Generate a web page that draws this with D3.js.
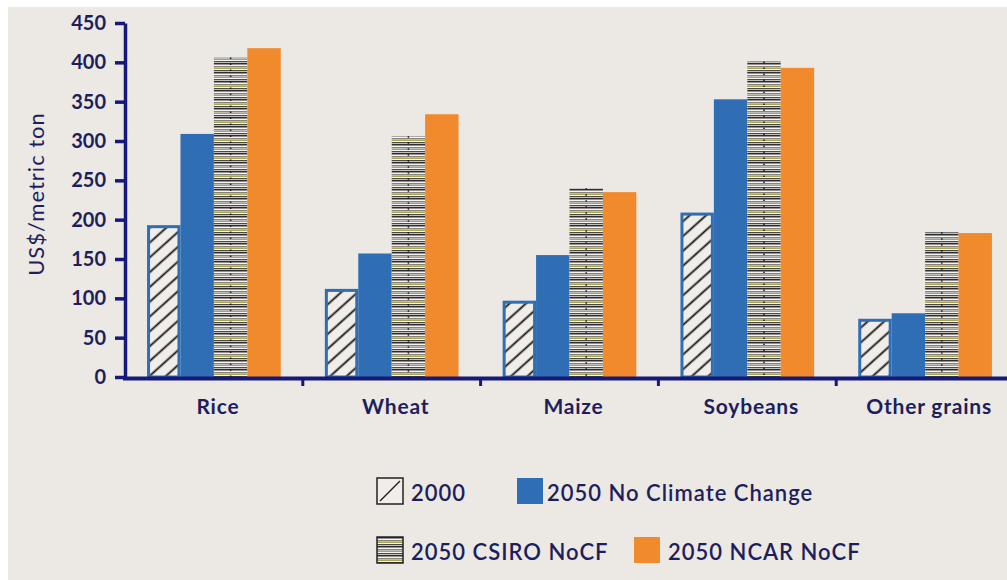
<!DOCTYPE html>
<meta charset="utf-8">
<html>
<head>
<style>
  body { margin: 0; background: #fff; }
  text { font-family: Lato, "Open Sans", sans-serif; fill: #1d1f5c; }
</style>
</head>
<body>
<script src="https://d3js.org/d3.v7.min.js"></script>
<div id="my_dataviz"></div>
<script>

    // data (US$/metric ton)
    var categories = ["Rice", "Wheat", "Maize", "Soybeans", "Other grains"];
    var series = ["2000", "2050 No Climate Change", "2050 CSIRO NoCF", "2050 NCAR NoCF"];
    var values2000 = [193, 112, 97, 209, 74];
    var valuesNoCC = [309, 157, 155, 353, 81];
    var valuesCSIRO = [406, 306, 240, 401, 184];
    var valuesNCAR = [418, 334, 235, 393, 183];
    var yTicks = [0, 50, 100, 150, 200, 250, 300, 350, 400, 450];

    var allValues = [values2000, valuesNoCC, valuesCSIRO, valuesNCAR];

    // flatten into rows for drawing
    var rows = [];
    categories.forEach(function(c, i) {
      series.forEach(function(s, j) {
        rows.push({cat: c, series: s, idx: j, value: allValues[j][i]});
      });
    });

    var width = 1007, height = 580;
    var navy = "#15197a", blue = "#2f6eb4", orange = "#f08a2c";

    var svg = d3.select("#my_dataviz")
      .append("svg")
        .attr("width", width)
        .attr("height", height);

    // beige panel
    svg.append("rect")
        .attr("x", 8).attr("y", 7)
        .attr("width", width - 8).attr("height", height - 7)
        .attr("fill", "#ece8e4");

    // patterns
    var defs = svg.append("defs");

    var hatch = defs.append("pattern")
        .attr("id", "hatch")
        .attr("patternUnits", "userSpaceOnUse")
        .attr("width", 11).attr("height", 11)
        .attr("patternTransform", "rotate(-42)");
    hatch.append("rect").attr("width", 11).attr("height", 11).attr("fill", "#f1eeea");
    hatch.append("line")
        .attr("x1", 0).attr("y1", 5.5).attr("x2", 11).attr("y2", 5.5)
        .attr("stroke", "#111").attr("stroke-width", 1.8);

    var stripes = defs.append("pattern")
        .attr("id", "stripes")
        .attr("patternUnits", "userSpaceOnUse")
        .attr("width", 10).attr("height", 9);
    stripes.append("rect").attr("width", 10).attr("height", 9).attr("fill", "#f6f4f0");
    stripes.append("rect").attr("y", 0).attr("width", 10).attr("height", 1.5).attr("fill", "#2e2e2e");
    stripes.append("rect").attr("y", 3).attr("width", 10).attr("height", 1.5).attr("fill", "#85837a");
    stripes.append("rect").attr("y", 5).attr("width", 10).attr("height", 1).attr("fill", "#a9a552");
    stripes.append("rect").attr("y", 7).attr("width", 10).attr("height", 1.3).attr("fill", "#4a4a46");

    // scales
    var x = d3.scaleBand()
        .domain(categories)
        .range([125, 1014])
        .paddingInner(0).paddingOuter(0);

    var xSub = d3.scaleBand()
        .domain(series)
        .range([0, x.bandwidth()])
        .paddingInner(0).paddingOuter(0.66);

    var y = d3.scaleLinear()
        .domain([0, 450])
        .range([377, 23]);

    // bars
    var bars = svg.append("g");
    bars.selectAll("rect")
        .data(rows)
        .enter()
        .append("rect")
          .attr("x", function(d) { return x(d.cat) + xSub(d.series) + (d.idx == 0 ? 1.5 : 0); })
          .attr("y", function(d) { return y(d.value) + (d.idx == 0 ? 1.5 : 0); })
          .attr("width", function(d) { return xSub.bandwidth() - (d.idx == 0 ? 3 : 0); })
          .attr("height", function(d) { return y(0) - y(d.value) - (d.idx == 0 ? 1.5 : 0); })
          .attr("fill", function(d) {
            return ["url(#hatch)", blue, "url(#stripes)", orange][d.idx];
          })
          .attr("stroke", function(d) { return d.idx == 0 ? blue : "none"; })
          .attr("stroke-width", 3);

    // dotted centre line on the striped bars
    bars.selectAll("line.dots")
        .data(rows.filter(function(d) { return d.idx == 2; }))
        .enter()
        .append("line")
          .attr("class", "dots")
          .attr("x1", function(d) { return x(d.cat) + xSub(d.series) + xSub.bandwidth() / 2; })
          .attr("x2", function(d) { return x(d.cat) + xSub(d.series) + xSub.bandwidth() / 2; })
          .attr("y1", function(d) { return y(d.value); })
          .attr("y2", y(0))
          .attr("stroke", "#1a1a2a")
          .attr("stroke-width", 1.5)
          .attr("stroke-dasharray", "1.5,4.5");

    // y axis
    var yAxis = svg.append("g")
        .attr("transform", "translate(125,0)")
        .call(d3.axisLeft(y).tickValues(yTicks).tickSize(10).tickSizeOuter(0).tickPadding(9));
    yAxis.select(".domain").attr("stroke", navy).attr("stroke-width", 3.5);
    yAxis.selectAll(".tick line").attr("stroke", navy).attr("stroke-width", 3.5);
    yAxis.selectAll(".tick text")
        .style("font-size", "20px")
        .style("font-weight", "700")
        .attr("fill", "#1d1f5c");

    // x axis line + boundary ticks
    svg.append("line")
        .attr("x1", 123).attr("x2", width)
        .attr("y1", 378.5).attr("y2", 378.5)
        .attr("stroke", navy).attr("stroke-width", 4);
    svg.selectAll("line.xtick")
        .data(categories.slice(1))
        .enter()
        .append("line")
          .attr("class", "xtick")
          .attr("x1", function(d) { return x(d); })
          .attr("x2", function(d) { return x(d); })
          .attr("y1", 378).attr("y2", 386)
          .attr("stroke", navy).attr("stroke-width", 3);

    // category labels
    svg.selectAll("text.cat")
        .data(categories)
        .enter()
        .append("text")
          .attr("class", "cat")
          .attr("x", function(d) { return x(d) + x.bandwidth() / 2 + 4; })
          .attr("y", 414)
          .attr("text-anchor", "middle")
          .style("font-size", "21px")
          .style("font-weight", "700")
          .style("letter-spacing", "0.8px")
          .text(function(d) { return d; });

    // y axis title
    svg.append("text")
        .attr("transform", "translate(44,194) rotate(-90)")
        .attr("text-anchor", "middle")
        .style("font-size", "22px")
        .style("letter-spacing", "1px")
        .text("US$/metric ton");

    // legend
    var legendPos = [[377, 478], [517, 478], [377, 537], [634, 537]];
    var legend = svg.selectAll("g.legend")
        .data(series)
        .enter()
        .append("g")
          .attr("class", "legend")
          .attr("transform", function(d, i) { return "translate(" + legendPos[i][0] + "," + legendPos[i][1] + ")"; });

    legend.append("rect")
        .attr("width", 26).attr("height", 26)
        .attr("fill", function(d, i) { return ["#f1eeea", blue, "url(#stripes)", orange][i]; })
        .attr("stroke", function(d, i) { return (i == 0 || i == 2) ? "#222" : "none"; })
        .attr("stroke-width", 1.5);
    legend.filter(function(d, i) { return i == 0; })
      .append("line")
        .attr("x1", 3).attr("y1", 23).attr("x2", 23).attr("y2", 3)
        .attr("stroke", "#222").attr("stroke-width", 1.5);

    legend.append("text")
        .attr("x", function(d, i) { return i == 1 ? 30 : 34; })
        .attr("y", 23)
        .style("font-size", "22px")
        .style("font-weight", "600")
        .style("letter-spacing", "1px")
        .text(function(d) { return d; });

    </script>
</body>
</html>
